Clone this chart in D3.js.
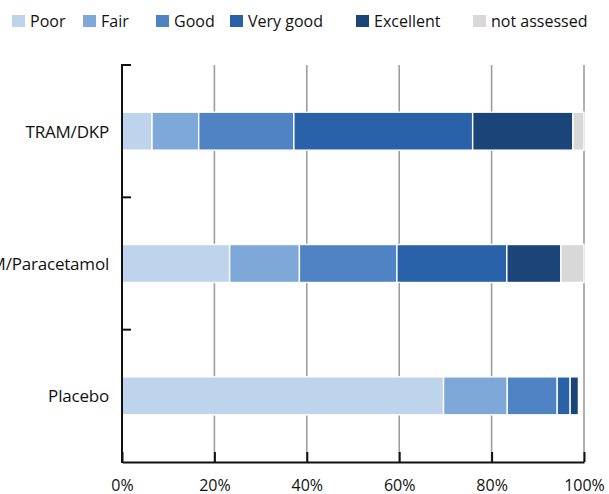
<!DOCTYPE html>
<html>
<head>
<meta charset="utf-8">
<script src="https://cdn.jsdelivr.net/npm/d3@7"></script>
<style>
  html, body { margin: 0; padding: 0; background: #fff; }
  svg { display: block; }
  text { font-family: "Open Sans", "Noto Sans", sans-serif; fill: #111; }
</style>
</head>
<body>
<svg id="chart" width="609" height="494"></svg>
<script>
// ---- data ----
const categories = ["TRAM/DKP", "TRAM/Paracetamol", "Placebo"];
const seriesNames = ["Poor", "Fair", "Good", "Very good", "Excellent", "not assessed"];
const poor        = [6.5, 23.3, 69.6];
const fair        = [10.1, 15.1, 13.8];
const good        = [20.6, 21.1, 10.8];
const veryGood    = [38.7, 23.8, 2.8];
const excellent   = [21.7, 11.7, 1.8];
const notAssessed = [2.4, 5.0, 0.0];
const xTicks = [0, 20, 40, 60, 80, 100];
const xTickLabels = ["0%", "20%", "40%", "60%", "80%", "100%"];
const colors = ["#bed4ec", "#7ea8d8", "#4f83c3", "#2a62a9", "#1b4579", "#d8d8d8"];

(function () {
const seriesValues = [poor, fair, good, veryGood, excellent, notAssessed];
const rows = categories.map((c, i) => {
  const r = { category: c };
  seriesNames.forEach((s, j) => { r[s] = seriesValues[j][i]; });
  return r;
});

const svg = d3.select("#chart");
const mLeft = 122, mRight = 584, mTop = 65, mBottom = 462;

const x = d3.scaleLinear().domain([0, 100]).range([mLeft, mRight]);
const y = d3.scaleBand().domain(categories).range([mTop, mBottom])
  .paddingInner(0.713).paddingOuter(0.3565);
const color = d3.scaleOrdinal().domain(seriesNames).range(colors);

// gridlines
svg.append("g").selectAll("line")
  .data(xTicks.filter(d => d > 0))
  .join("line")
  .attr("x1", d => x(d)).attr("x2", d => x(d))
  .attr("y1", mTop).attr("y2", mBottom)
  .attr("stroke", "#9e9e9e").attr("stroke-width", 1.6);

// bars
const stacked = d3.stack().keys(seriesNames)(rows);
svg.append("g").selectAll("g")
  .data(stacked)
  .join("g")
  .attr("fill", d => color(d.key))
  .selectAll("rect")
  .data(d => d)
  .join("rect")
  .attr("x", d => x(d[0]))
  .attr("y", d => y(d.data.category))
  .attr("width", d => Math.max(0, x(d[1]) - x(d[0])))
  .attr("height", y.bandwidth())
  .attr("stroke", "#fff")
  .attr("stroke-width", d => (d[1] - d[0]) > 0 ? 1.4 : 0);

// x axis
const xAxis = d3.axisBottom(x)
  .tickValues(xTicks)
  .tickFormat((d, i) => xTickLabels[i])
  .tickSizeInner(-10).tickSizeOuter(0).tickPadding(18);
const gx = svg.append("g").attr("transform", `translate(0,${mBottom})`).call(xAxis);
gx.select(".domain").attr("stroke", "#111").attr("stroke-width", 2);
gx.selectAll(".tick line").attr("stroke", "#111").attr("stroke-width", 2);
gx.selectAll(".tick text").attr("font-size", 16).attr("fill", "#111")
  .style("font-family", '"Open Sans", sans-serif');

// y axis line and boundary ticks
const step = y.step();
svg.append("line")
  .attr("x1", mLeft).attr("x2", mLeft).attr("y1", mTop - 1).attr("y2", mBottom + 1)
  .attr("stroke", "#111").attr("stroke-width", 2);
svg.append("g").selectAll("line")
  .data(categories)
  .join("line")
  .attr("x1", mLeft).attr("x2", mLeft + 9)
  .attr("y1", (d, i) => mTop + i * step).attr("y2", (d, i) => mTop + i * step)
  .attr("stroke", "#111").attr("stroke-width", 2);

// category labels
svg.append("g").selectAll("text")
  .data(categories)
  .join("text")
  .attr("x", 109)
  .attr("y", d => y(d) + y.bandwidth() / 2)
  .attr("dy", "0.38em")
  .attr("text-anchor", "end")
  .attr("font-size", 17)
  .attr("letter-spacing", "-0.2")
  .text(d => d);

// legend
const legendX = [12, 83, 156, 230, 356, 473];
const lg = svg.append("g").selectAll("g")
  .data(seriesNames)
  .join("g")
  .attr("transform", (d, i) => `translate(${legendX[i]},15)`);
lg.append("rect").attr("width", 13).attr("height", 12).attr("fill", d => color(d));
lg.append("text").attr("x", 18).attr("y", 6).attr("dy", "0.35em")
  .attr("font-size", 16).text(d => d);
})();
</script>
</body>
</html>
